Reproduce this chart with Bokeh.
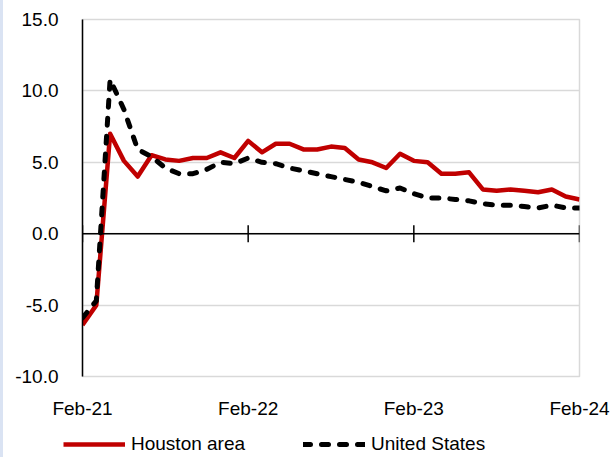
import math
from bokeh.plotting import figure
from bokeh.layouts import column
from bokeh.models import (FixedTicker, PrintfTickFormatter, Span, Legend, LegendItem, Range1d)
from bokeh.embed import file_html
from bokeh.resources import INLINE

months = list(range(37))
tick_positions = [0, 12, 24, 36]
tick_labels = ["Feb-21", "Feb-22", "Feb-23", "Feb-24"]
y_ticks = [-10, -5, 0, 5, 10, 15]
series_names = ["Houston area", "United States"]

houston = [-6.4, -5.0, 7.0, 5.1, 4.0, 5.5, 5.2, 5.1, 5.3, 5.3, 5.7, 5.3, 6.5,
           5.7, 6.3, 6.3, 5.9, 5.9, 6.1, 6.0, 5.2, 5.0, 4.6, 5.6, 5.1,
           5.0, 4.2, 4.2, 4.3, 3.1, 3.0, 3.1, 3.0, 2.9, 3.1, 2.6, 2.4]
us = [-5.9, -4.7, 10.8, 8.7, 5.9, 5.4, 4.6, 4.2, 4.2, 4.5, 5.0, 4.9, 5.3,
      5.0, 4.9, 4.6, 4.4, 4.2, 4.0, 3.8, 3.6, 3.3, 3.0, 3.2, 2.8,
      2.5, 2.5, 2.4, 2.3, 2.1, 2.0, 2.0, 1.9, 1.8, 2.0, 1.8, 1.8]

FONT = "Liberation Sans"
FS = "19px"
RED = "#c00000"
H_STYLE = dict(line_color=RED, line_width=4.5, line_join="round")
U_STYLE = dict(line_color="black", line_width=5, line_dash="7 11", line_cap="round", line_join="round")

p = figure(width=616, height=425, frame_width=497, frame_height=357,
           min_border_left=82, min_border_right=37, min_border_top=19, min_border_bottom=49,
           output_backend="svg", toolbar_location=None,
           x_range=Range1d(0, 36), y_range=Range1d(-10, 15))
p.frame_align = False
p.outline_line_color = "#d9d9d9"
p.outline_line_width = 1.5
p.background_fill_color = "white"
p.border_fill_color = "white"

p.xgrid.grid_line_color = None
p.ygrid.ticker = FixedTicker(ticks=y_ticks)
p.ygrid.grid_line_color = "#d9d9d9"
p.ygrid.grid_line_width = 1.5

p.yaxis.ticker = FixedTicker(ticks=y_ticks)
p.yaxis.formatter = PrintfTickFormatter(format="%.1f")
p.yaxis.major_tick_out = 0
p.yaxis.major_tick_in = 0
p.yaxis.minor_tick_out = 0
p.yaxis.minor_tick_in = 0
p.yaxis.axis_line_color = "black"
p.yaxis.axis_line_width = 1.5
p.yaxis.major_label_standoff = 24
p.yaxis.major_label_text_font = FONT
p.yaxis.major_label_text_font_size = FS
p.yaxis.major_label_text_color = "black"

p.xaxis.ticker = FixedTicker(ticks=tick_positions)
p.xaxis.major_label_overrides = {t: l for t, l in zip(tick_positions, tick_labels)}
p.xaxis.axis_line_color = None
p.xaxis.major_tick_out = 0
p.xaxis.major_tick_in = 0
p.xaxis.minor_tick_out = 0
p.xaxis.minor_tick_in = 0
p.xaxis.major_label_standoff = 21
p.xaxis.major_label_text_font = FONT
p.xaxis.major_label_text_font_size = FS
p.xaxis.major_label_text_color = "black"

# zero line with crossing tick marks
p.add_layout(Span(location=0, dimension="width", line_color="black", line_width=1.5))
p.scatter(x=tick_positions, y=[0] * len(tick_positions), marker="dash", angle=math.pi / 2,
          size=17, line_color="black", line_width=1.5)

p.line(months, houston, **H_STYLE)
p.line(months, us, **U_STYLE)

# legend strip (same series drawn outside its visible range, only the legend shows)
lg = figure(width=616, height=32, min_border=0, output_backend="svg", toolbar_location=None,
            x_range=Range1d(1000, 1001), y_range=Range1d(1000, 1001))
lg.frame_align = False
lg.axis.visible = False
lg.grid.grid_line_color = None
lg.outline_line_color = None
lg.border_fill_color = "white"
lh = lg.line(months, houston, **H_STYLE)
lu = lg.line(months, us, **U_STYLE)
legend = Legend(items=[LegendItem(label=series_names[0], renderers=[lh]),
                       LegendItem(label=series_names[1], renderers=[lu])],
                orientation="horizontal", location=(63, 2),
                glyph_width=62, glyph_height=20, label_height=20,
                label_standoff=6, spacing=58, padding=0, margin=0,
                border_line_alpha=0, background_fill_alpha=0,
                label_text_font=FONT, label_text_font_size=FS, label_text_color="black")
lg.add_layout(legend, "center")

layout = column(p, lg, spacing=0)
html = file_html(layout, INLINE)
html = html.replace("</head>", "<style>body::after{content:'';position:fixed;left:0;top:0;width:3px;height:100%;background:#dae3f3;z-index:1000;}</style></head>", 1)
open("out.html", "w").write(html)
